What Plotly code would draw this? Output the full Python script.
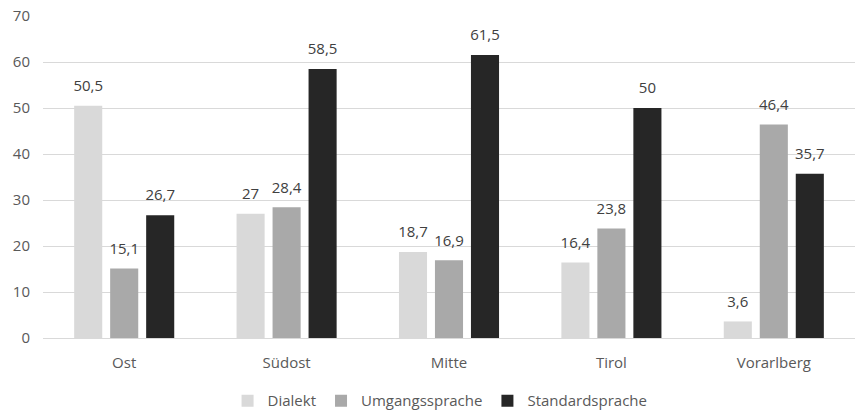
import plotly.graph_objects as go

categories = ["Ost", "Südost", "Mitte", "Tirol", "Vorarlberg"]
dialekt = [50.5, 27, 18.7, 16.4, 3.6]
umgang = [15.1, 28.4, 16.9, 23.8, 46.4]
standard = [26.7, 58.5, 61.5, 50, 35.7]
series_names = ["Dialekt", "Umgangssprache", "Standardsprache"]
colors = ["#d9d9d9", "#a9a9a9", "#262626"]

FONT = "Open Sans, Lato, sans-serif"
fig = go.Figure()
for i, (name, vals, col) in enumerate(zip(series_names, [dialekt, umgang, standard], colors)):
    fig.add_trace(go.Bar(
        x=categories, y=vals, name=name, offsetgroup=str(i),
        marker=dict(color=col, line=dict(width=0)),
    ))
for i, vals in enumerate([dialekt, umgang, standard]):
    fig.add_trace(go.Scatter(
        x=categories, y=vals, mode="markers+text", offsetgroup=str(i),
        marker=dict(size=16, opacity=0), showlegend=False, hoverinfo="skip",
        text=[f"{v:g}".replace(".", ",") for v in vals],
        textposition="top center", cliponaxis=False,
        textfont=dict(size=15, color="#404040", family=FONT),
    ))

fig.update_layout(
    width=856, height=412,
    margin=dict(l=43, r=1, t=16, b=74, autoexpand=False),
    plot_bgcolor="white", paper_bgcolor="white",
    barmode="group", bargap=0.335, bargroupgap=0.22,
    scattermode="group", scattergap=0.335,
    font=dict(family=FONT, size=15, color="#595959"),
    separators=", ",
    legend=dict(orientation="h", x=0.489, xanchor="center", yref="container",
                y=0.027, yanchor="middle",
                font=dict(size=15, color="#595959"), itemwidth=30, traceorder="normal"),
    xaxis=dict(showgrid=False, showline=True, linecolor="#d9d9d9", linewidth=1,
               ticks="", tickfont=dict(size=15, color="#595959"), ticklabelstandoff=11),
    yaxis=dict(range=[0, 70], dtick=10, showgrid=True, gridcolor="#d9d9d9",
               gridwidth=1, zeroline=False, showline=False, ticks="",
               tickfont=dict(size=15, color="#595959"), ticklabelstandoff=12),
    showlegend=True,
)
fig.write_html("out.html", config={"displayModeBar": False},
               post_script="document.body.style.margin='0';document.body.style.overflow='hidden';")
